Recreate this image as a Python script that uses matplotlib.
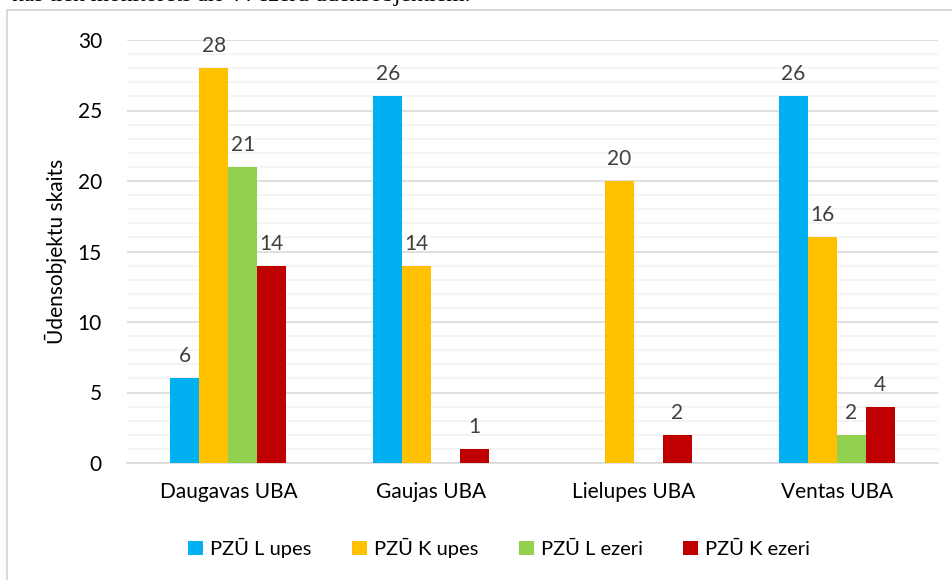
import matplotlib
matplotlib.use("Agg")
import matplotlib.pyplot as plt
import numpy as np
from matplotlib.patches import Rectangle
from matplotlib.ticker import MultipleLocator

categories = ["Daugavas UBA", "Gaujas UBA", "Lielupes UBA", "Ventas UBA"]
series_names = ["PZŪ L upes", "PZŪ K upes", "PZŪ L ezeri", "PZŪ K ezeri"]
pzu_l_upes = [6, 26, 0, 26]
pzu_k_upes = [28, 14, 20, 16]
pzu_l_ezeri = [21, 0, 0, 2]
pzu_k_ezeri = [14, 1, 2, 4]
colors = ["#00B0F0", "#FFC000", "#92D050", "#C00000"]
ylabel = "Ūdensobjektu skaits"
top_text = "kas tiek monitorēts arī 44 ezeru ūdensobjektiem."

plt.rcParams['font.family'] = ['Lato', 'DejaVu Sans']

fig = plt.figure(figsize=(9.52, 5.80), dpi=100)
# outer chart border
fig.patches.append(Rectangle((7/952, -0.1), 1.0, 1 - 10/580 + 0.1,
                             transform=fig.transFigure, fill=False,
                             edgecolor="#d9d9d9", linewidth=1.5, zorder=0))
fig.text(12/952, 1 + 4/580, top_text, family="Liberation Serif", fontsize=17,
         ha="left", va="center", color="black")

ax = fig.add_axes([127/952, 1 - 463/580, (938 - 127)/952, (463 - 40)/580])
x = np.arange(len(categories))
w = 0.143
all_series = [pzu_l_upes, pzu_k_upes, pzu_l_ezeri, pzu_k_ezeri]
for i, (vals, name, c) in enumerate(zip(all_series, series_names, colors)):
    pos = x + (i - 1.5) * w
    ax.bar(pos, vals, width=w, color=c, label=name, zorder=3)
    for p, v in zip(pos, vals):
        if v > 0:
            ax.text(p, v + 0.85, str(v), ha="center", va="bottom",
                    fontsize=15, color="#404040", zorder=4)

ax.set_xlim(-0.5, len(categories) - 0.5)
ax.set_ylim(0, 30)
ax.yaxis.set_major_locator(MultipleLocator(5))
ax.yaxis.set_minor_locator(MultipleLocator(1))
ax.grid(axis="y", which="major", color="#d9d9d9", linewidth=1.2, zorder=0)
ax.grid(axis="y", which="minor", color="#f2f2f2", linewidth=1.2, zorder=0)
ax.set_axisbelow(True)
for s in ["top", "right", "left"]:
    ax.spines[s].set_visible(False)
ax.spines["bottom"].set_color("#d9d9d9")
ax.spines["bottom"].set_linewidth(1.2)
ax.tick_params(axis="both", which="both", length=0, labelsize=15, colors="black")
ax.tick_params(axis="y", pad=18)
ax.tick_params(axis="x", pad=14)
ax.set_xticks(x)
ax.set_xticklabels(categories)
ax.set_ylabel(ylabel, fontsize=15, labelpad=8)

ax.legend(loc="center", bbox_to_anchor=(499/952, 1 - 548/580),
          bbox_transform=fig.transFigure, ncol=4, frameon=False,
          fontsize=14.5, handlelength=0.75, handleheight=0.75,
          handletextpad=0.35, columnspacing=2.0)

fig.savefig("out.png", dpi=100)
